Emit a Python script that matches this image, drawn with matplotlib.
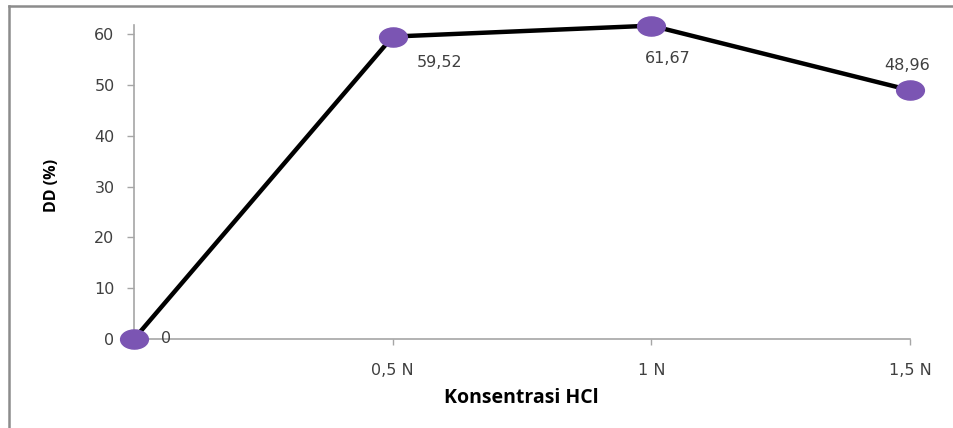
import matplotlib.pyplot as plt
from matplotlib.lines import Line2D
from matplotlib.path import Path
from matplotlib.transforms import Affine2D

# data
kategori = ['', '0,5 N', '1 N', '1,5 N']
dd = [0, 59.52, 61.67, 48.96]
label_dd = ['0', '59,52', '61,67', '48,96']
# offset of each data label (points)
offset_label = [(23, 0), (34, -19), (12, -24), (-2, 18)]

ungu = '#7b55b3'
abu = '#a6a6a6'
teks = '#404040'

# oval marker like Excel
oval = Path.unit_circle().transformed(Affine2D().scale(1.45, 1.0))

fig = plt.figure(figsize=(9.54, 4.28), dpi=100)
ax = fig.add_axes([0.1405, 0.208, 0.8134, 0.7336])

x = list(range(len(kategori)))
ax.plot(x, dd, color='black', lw=3.2, zorder=2, clip_on=False)
ax.plot(x, dd, linestyle='none', marker=oval, markersize=20,
        markerfacecolor=ungu, markeredgecolor=ungu, zorder=3, clip_on=False)

for xi, yi, lab, off in zip(x, dd, label_dd, offset_label):
    ax.annotate(lab, (xi, yi), xytext=off, textcoords='offset points',
                ha='center', va='center', fontsize=11.5, color=teks,
                family='DejaVu Sans')

ax.set_xlim(0, 3)
ax.set_ylim(0, 61.8)
ax.set_yticks([0, 10, 20, 30, 40, 50, 60])
ax.set_xticks(x)
ax.set_xticklabels(kategori)

for s in ['top', 'right']:
    ax.spines[s].set_visible(False)
for s in ['left', 'bottom']:
    ax.spines[s].set_color(abu)
    ax.spines[s].set_linewidth(1.2)

ax.tick_params(axis='y', direction='out', length=5, width=1, color=abu,
               labelsize=11.5, labelcolor=teks, pad=9)
ax.tick_params(axis='x', direction='out', length=4, width=1, color=abu,
               labelsize=11.5, labelcolor=teks, pad=13)

ax.set_ylabel('DD (%)', fontsize=11.5, fontweight='bold', family='Open Sans',
              color='black')
ax.yaxis.set_label_coords(-0.106, 0.49)
ax.yaxis.label.set_va('center')
ax.set_xlabel('Konsentrasi HCl', fontsize=14, fontweight='bold', family='Open Sans',
              color='black')
ax.xaxis.set_label_coords(0.499, -0.188)
ax.xaxis.label.set_va('center')

# outer chart border (left and top only visible in crop)
fig.add_artist(Line2D([9 / 954, 9 / 954], [0, 1 - 6 / 428], transform=fig.transFigure,
                      color='#8c8c8c', lw=1.8))
fig.add_artist(Line2D([9 / 954, 1], [1 - 6 / 428, 1 - 6 / 428], transform=fig.transFigure,
                      color='#8c8c8c', lw=1.8))

fig.savefig('out.png', dpi=100)
